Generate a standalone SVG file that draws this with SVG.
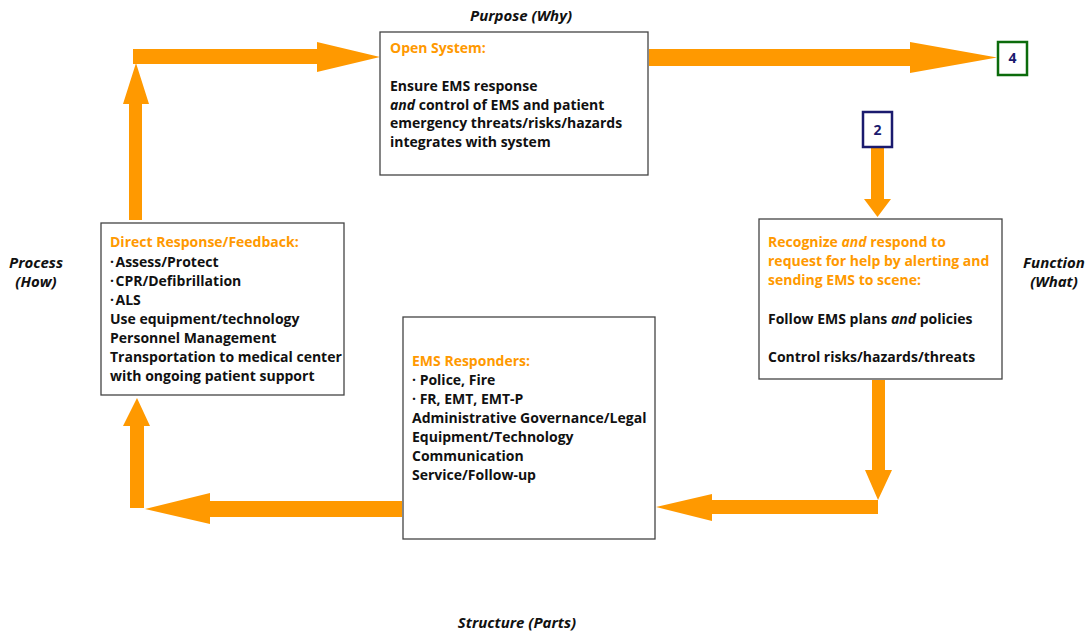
<svg xmlns="http://www.w3.org/2000/svg" width="1091" height="637" viewBox="0 0 1091 637">
<style>
.box{fill:#fff;stroke:#444;stroke-width:1.3}
.t{font-family:"Open Sans","DejaVu Sans",sans-serif;font-weight:700;font-size:14px;fill:#111}
.o{fill:#FF9900}
.lab{font-family:"Open Sans","DejaVu Sans",sans-serif;font-weight:700;font-style:italic;font-size:15px;fill:#111;text-anchor:middle}
.arr{fill:#FF9900}
.num{font-family:"Open Sans","DejaVu Sans",sans-serif;font-weight:700;font-size:14px;fill:#1a1a6e;text-anchor:middle}
</style>
<rect width="1091" height="637" fill="#fff"/>
<g id="connectors">
<polygon class="arr" points="133,49 317,49 317,42 380,57 317,72 317,64 133,64"/>
<polygon class="arr" points="129,220 129,104 123,104 136,63 149,104 142,104 142,220"/>
<polygon class="arr" points="649,49 910,49 910,42 997,57.5 910,73 910,66 649,66"/>
<polygon class="arr" points="871,147 884,147 884,199 891,199 877.5,217 864,199 871,199"/>
<polygon class="arr" points="872,380 885,380 885,470 892,470 878,500 865,470 872,470"/>
<polygon class="arr" points="878,500 878,514 712,514 712,521 656,507 712,494 712,500"/>
<polygon class="arr" points="402,501 402,517 210,517 210,524 145,509 210,493 210,501"/>
<polygon class="arr" points="130,508 144,508 144,426 150,426 137,398 123,426 130,426"/>
</g>
<g id="purpose">
<rect class="box" x="380" y="32" width="268" height="143"/>
<text class="t o" x="390" y="53">Open System:</text>
<text class="t" x="390" y="91">Ensure EMS response</text>
<text class="t" x="390" y="110"><tspan font-style="italic">and</tspan> control of EMS and patient</text>
<text class="t" x="390" y="128">emergency threats/risks/hazards</text>
<text class="t" x="390" y="147">integrates with system</text>
</g>
<g id="function">
<rect class="box" x="759" y="219" width="243" height="160"/>
<text class="t o" x="768" y="247">Recognize <tspan font-style="italic">and</tspan> respond to</text>
<text class="t o" x="768" y="266">request for help by alerting and</text>
<text class="t o" x="768" y="285">sending EMS to scene:</text>
<text class="t" x="768" y="324">Follow EMS plans <tspan font-style="italic">and</tspan> policies</text>
<text class="t" x="768" y="362">Control risks/hazards/threats</text>
</g>
<g id="structure">
<rect class="box" x="403" y="317" width="252" height="222"/>
<text class="t o" x="412" y="366">EMS Responders:</text>
<text class="t" x="412" y="385">· Police, Fire</text>
<text class="t" x="412" y="404">· FR, EMT, EMT-P</text>
<text class="t" x="412" y="423">Administrative Governance/Legal</text>
<text class="t" x="412" y="442">Equipment/Technology</text>
<text class="t" x="412" y="461">Communication</text>
<text class="t" x="412" y="480">Service/Follow-up</text>
</g>
<g id="process">
<rect class="box" x="101" y="223" width="243" height="172"/>
<text class="t o" x="110" y="247">Direct Response/Feedback:</text>
<text class="t" x="110" y="267">·<tspan dx="1.5">Assess/Protect</tspan></text>
<text class="t" x="110" y="286">·<tspan dx="1.5">CPR/Defibrillation</tspan></text>
<text class="t" x="110" y="305">·<tspan dx="1.5">ALS</tspan></text>
<text class="t" x="110" y="324">Use equipment/technology</text>
<text class="t" x="110" y="343">Personnel Management</text>
<text class="t" x="110" y="362">Transportation to medical center</text>
<text class="t" x="110" y="381">with ongoing patient support</text>
</g>
<g id="box4">
<rect x="998" y="42" width="29" height="33" fill="#fff" stroke="#0b6b0b" stroke-width="2.5"/>
<text class="num" x="1012.5" y="63">4</text>
</g>
<g id="box2">
<rect x="863" y="112" width="29" height="35" fill="#fff" stroke="#1a1a6e" stroke-width="2.5"/>
<text class="num" x="877.5" y="135">2</text>
</g>
<g id="labels">
<text class="lab" x="521" y="21">Purpose (Why)</text>
<text class="lab" x="1054" y="268">Function</text>
<text class="lab" x="1054" y="287">(What)</text>
<text class="lab" x="36" y="268">Process</text>
<text class="lab" x="36" y="287">(How)</text>
<text class="lab" x="517" y="628">Structure (Parts)</text>
</g>
</svg>
